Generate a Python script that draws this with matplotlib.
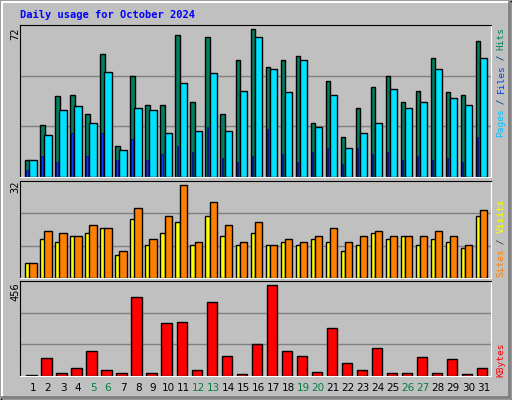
import matplotlib
matplotlib.use("Agg")
import matplotlib.pyplot as plt
from matplotlib.patches import Rectangle
from matplotlib.lines import Line2D
import numpy as np

days = list(range(1, 32))
hits = [8.3, 25, 38.6, 39.5, 30, 59, 15, 48.6, 34.7, 34.7, 68, 35.7, 67, 30, 56, 71,
        52.5, 56, 58, 26, 46, 19, 33, 43, 48.6, 35.7, 41, 57, 40.5, 39.5, 65]
files = [8.3, 20, 32, 34, 26, 50.5, 13, 33, 32, 21, 45, 22, 50, 22, 41, 67,
         51.5, 40.5, 56, 24, 39.5, 14, 21, 26, 42, 33, 35.7, 51.5, 37.6, 34.7, 57]
pages = [3.5, 10, 7, 21, 10, 21, 8, 18, 8, 11, 15, 12, 24, 9, 7, 10,
         23, 11, 7, 12, 14, 6, 14, 11, 12, 8, 10, 8, 9, 7, 19]
sites = [5, 12.8, 11.8, 13.8, 14.8, 16.5, 7.7, 19.5, 10.8, 14.8, 18.5, 10.8, 20.5, 13.8, 10.8, 14.8,
         10.8, 11.8, 10.8, 12.8, 11.8, 8.8, 10.8, 14.8, 12.8, 13.8, 10.8, 12.8, 11.8, 9.8, 20.5]
visits = [5, 15.5, 14.8, 13.8, 17.5, 16.5, 8.8, 23.2, 12.8, 20.5, 31, 11.8, 25.3, 17.5, 11.8, 18.5,
          10.8, 12.8, 11.8, 13.8, 16.5, 11.8, 13.8, 15.5, 13.8, 13.8, 13.8, 15.5, 13.8, 10.8, 22.6]
kbytes = [6, 89, 16, 40, 123, 31, 16, 385, 16, 259, 264, 31, 361, 99, 11, 157,
          443, 123, 99, 21, 234, 65, 31, 137, 16, 16, 94, 16, 84, 11, 40]
weekends = [5, 6, 12, 13, 19, 20, 26, 27]

BG = "#C0C0C0"
W, H = 512, 400
fig = plt.figure(figsize=(W / 100, H / 100), dpi=100, facecolor=BG)
MONO = "DejaVu Sans Mono"


def px_axes(left, top, right, bottom):
    return fig.add_axes([left / W, 1 - bottom / H, (right - left) / W, (bottom - top) / H])


def style(ax, ymax):
    ax.set_facecolor(BG)
    ax.set_xlim(0.644, 32.02)
    ax.set_ylim(0, ymax)
    for y in (ymax / 3, 2 * ymax / 3):
        ax.axhline(y, color="#808080", lw=1, zorder=0)
    ax.set_xticks([])
    ax.set_yticks([])
    for s in ("left", "top"):
        ax.spines[s].set_color("black")
    for s in ("right", "bottom"):
        ax.spines[s].set_color("white")


x = np.array(days, dtype=float)
kw = dict(align="edge", edgecolor="black", linewidth=1)

ax1 = px_axes(20, 25, 491, 177)
style(ax1, 72.8)
ax1.bar(x, hits, width=0.31, color="#008060", **kw)
ax1.bar(x + 0.27, files, width=0.49, color="#00E0FF", **kw)
ax1.bar(x + 0.07, pages, width=0.09, color="#0040FF", align="edge", edgecolor="#000080", linewidth=0.5)

ax2 = px_axes(20, 181, 491, 278)
style(ax2, 32.2)
ax2.bar(x, sites, width=0.31, color="#FFFF00", **kw)
ax2.bar(x + 0.27, visits, width=0.49, color="#FF8000", **kw)

ax3 = px_axes(20, 281, 491, 376)
style(ax3, 461)
ax3.bar(x + 0.07, kbytes, width=0.69, color="#FF0000", **kw)

for d in days:
    ax3.text(d + 0.51, -0.07, str(d), transform=ax3.get_xaxis_transform(),
             ha="center", va="top", fontsize=7.5,
             color="#008040" if d in weekends else "black")

# title
fig.text(20 / W, 1 - 15 / H, "Daily usage for October 2024", color="#0000FF",
         fontsize=7.5, fontweight="bold", family=MONO, va="center", ha="left")


def vtext(xp, ybottom, parts, size=6.8, step=5.45):
    pos = 0
    for txt, col in parts:
        fig.text(xp / W, 1 - (ybottom - pos * step) / H, txt, color=col, fontsize=size,
                 family=MONO, rotation=90, rotation_mode="anchor", ha="left", va="center")
        pos += len(txt)


vtext(501, 137, [("Pages", "#00C0FF"), (" / ", "#004080"), ("Files", "#0040FF"),
                 (" / ", "#004080"), ("Hits", "#008060")])
vtext(501, 277, [("Sites", "#FF8000"), (" / ", "#404040"), ("Visits", "#FFFF00")])
vtext(501, 377, [("KBytes", "#FF0000")])

vtext(15, 40, [("72", "black")], size=7.5, step=6)
vtext(15, 193, [("32", "black")], size=7.5, step=6)
vtext(15, 301, [("456", "black")], size=7.5, step=6)

# bevelled frame
tr = fig.transFigure
def line(x0, y0, x1, y1, c, lw=1):
    fig.add_artist(Line2D([x0 / W, x1 / W], [1 - y0 / H, 1 - y1 / H], color=c, lw=lw, transform=tr))

line(0.5, 0.5, W - 0.5, 0.5, "black")
line(0.5, 0.5, 0.5, H - 0.5, "black")
line(W - 0.5, 0.5, W - 0.5, H - 0.5, "black")
line(0.5, H - 0.5, W - 0.5, H - 0.5, "black")
line(2, 2, W - 3, 2, "white", 1.5)
line(2, 2, 2, H - 3, "white", 1.5)
line(W - 3, 2, W - 3, H - 3, "#808080", 2)
line(2, H - 3, W - 3, H - 3, "#808080", 2)

fig.savefig("out.png", dpi=100, facecolor=BG)
